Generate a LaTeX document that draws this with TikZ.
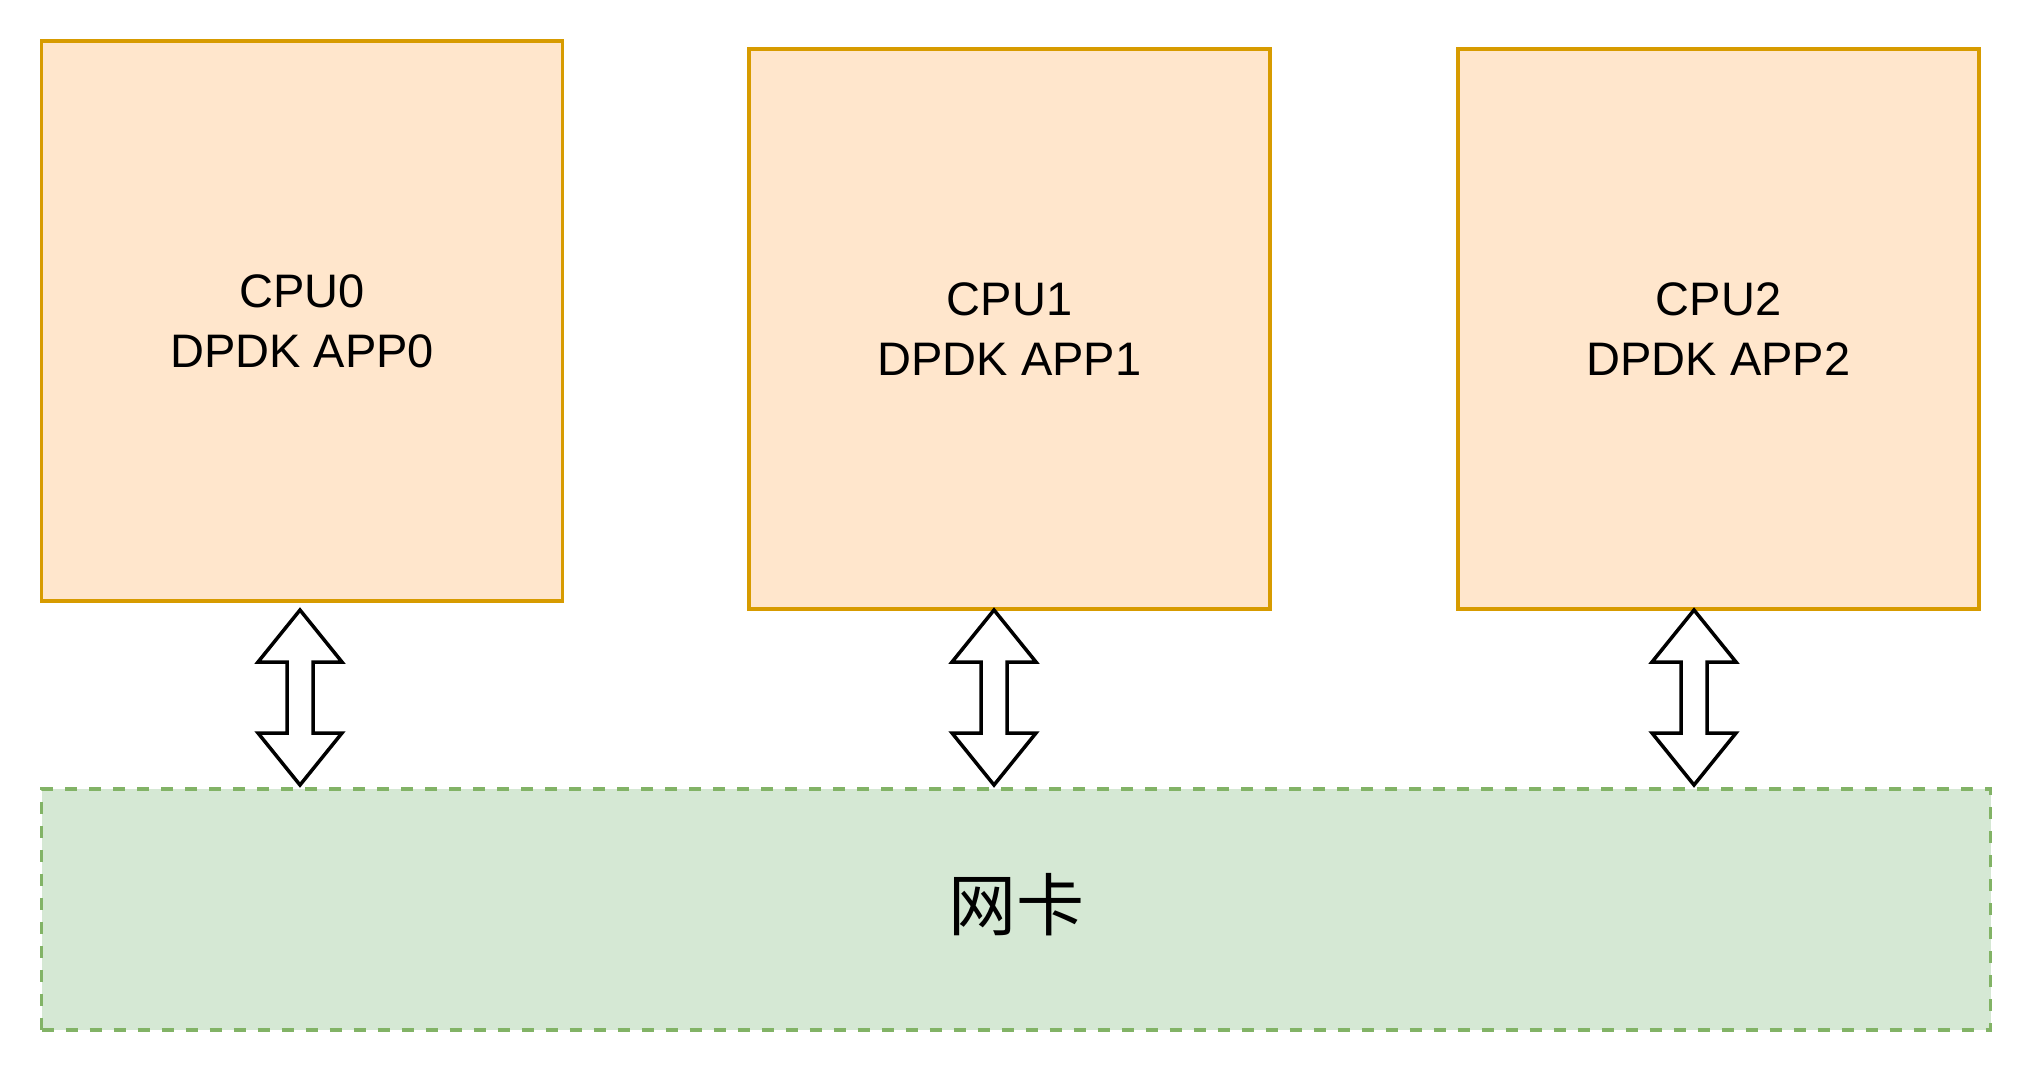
\documentclass[tikz,border=0pt]{standalone}
\usepackage{fontspec}
\setmainfont{Liberation Sans}
\newfontfamily\cjk{Noto Sans CJK SC}
\usepackage{xcolor}
\definecolor{OrangeFill}{HTML}{FFE6CC}
\definecolor{OrangeBorder}{HTML}{D79B00}
\definecolor{GreenFill}{HTML}{D5E8D4}
\definecolor{GreenBorder}{HTML}{82B366}
\usetikzlibrary{positioning, calc}

% block arrow with a head at both ends, from tip #1 to tip #2
\newcommand{\dblarrow}[2]{%
  \draw[barrow] (#1)
    -- ($(#1)+(42,-52)$) -- ($(#1)+(13,-52)$)
    -- ($(#2)+(13,52)$) -- ($(#2)+(42,52)$)
    -- (#2)
    -- ($(#2)+(-42,52)$) -- ($(#2)+(-13,52)$)
    -- ($(#1)+(-13,-52)$) -- ($(#1)+(-42,-52)$)
    -- cycle;}

\begin{document}
\begin{tikzpicture}[
  x=1pt, y=1pt,
  cpubox/.style={rectangle, draw=OrangeBorder, fill=OrangeFill, line width=3.5pt,
                 minimum width=521pt, minimum height=560pt, inner sep=0pt,
                 align=center, font=\fontsize{47}{60}\selectfont},
  nicbox/.style={rectangle, draw=GreenBorder, fill=GreenFill, line width=3.5pt,
                 dash pattern=on 12pt off 12pt,
                 minimum width=1949pt, minimum height=241pt, inner sep=0pt,
                 font=\cjk\fontsize{68}{80}\selectfont},
  barrow/.style={draw=black, fill=white, line width=3.5pt, line join=miter}
]
  \useasboundingbox (0,0) rectangle (2032,-1072);

  \node[cpubox] (cpu0) at (302,-321) {CPU0\\DPDK APP0};
  \node[cpubox] (cpu1) at (1009.5,-329) {CPU1\\DPDK APP1};
  \node[cpubox, right=184.5pt of cpu1] (cpu2) {CPU2\\DPDK APP2};

  \node[nicbox] (nic) at (1016,-909.5) {\raisebox{16pt}{网卡}};

  % arrow tips
  \coordinate (t0) at (300,-610);
  \coordinate (b0) at (300,-785);
  \coordinate (t1) at (994,-610);
  \coordinate (b1) at (994,-785);
  \coordinate (t2) at (1694,-610);
  \coordinate (b2) at (1694,-785);

  \dblarrow{t0}{b0}
  \dblarrow{t1}{b1}
  \dblarrow{t2}{b2}
\end{tikzpicture}
\end{document}
